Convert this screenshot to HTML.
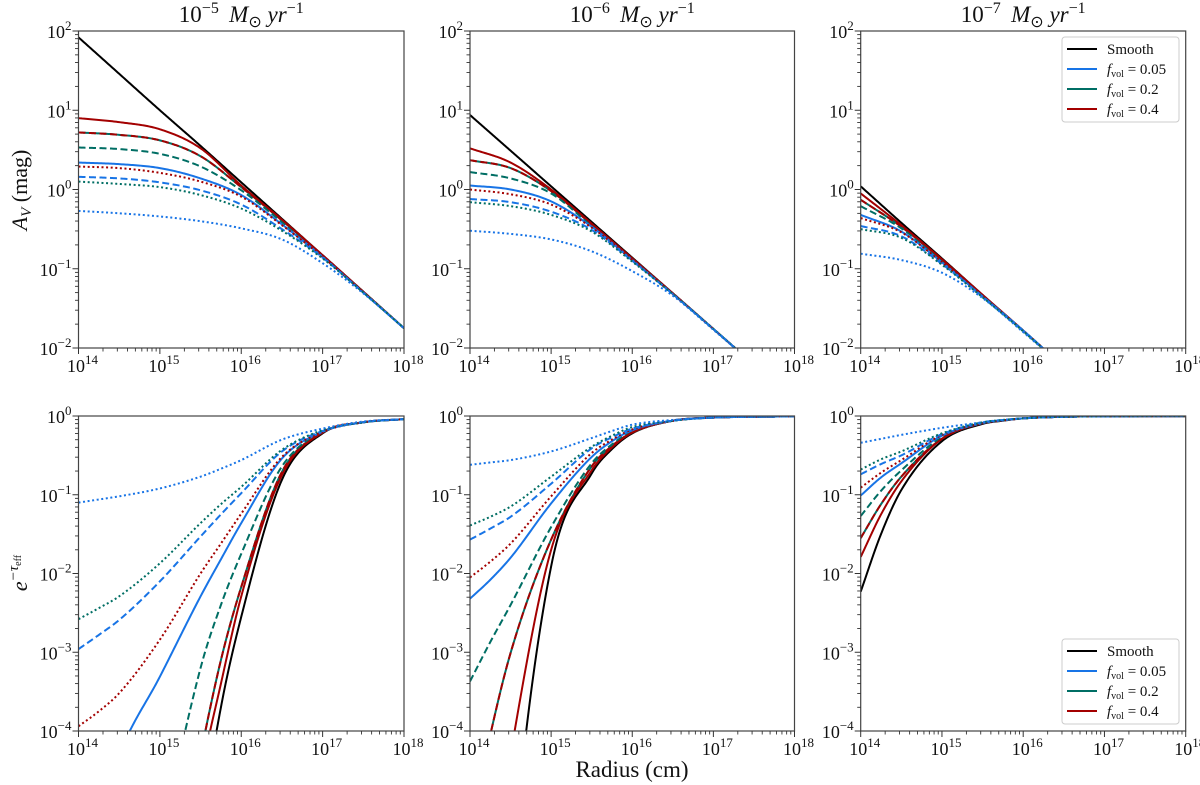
<!DOCTYPE html>
<html><head><meta charset="utf-8"><style>
html,body{margin:0;padding:0;background:#fff;width:1200px;height:785px;overflow:hidden;}
svg{display:block;font-family:"Liberation Serif",serif;}
</style></head><body>
<svg id="fig" width="1200" height="785" viewBox="0 0 1200 785" xmlns="http://www.w3.org/2000/svg"></svg>
<script>
// ---------- data (log10 values) ----------
const topGrid = [14,14.5,15,15.5,16,16.5,17,17.5,18];
const botGrid = [14,14.25,14.5,15,15.5,15.75,16,16.5,17,17.5,18];
const titleExps = ["\u22125","\u22126","\u22127"];
const xTickLabels = ["14","15","16","17","18"];
const topYTickLabels = ["2","1","0","\u22121","\u22122"];
const botYTickLabels = ["0","\u22121","\u22122","\u22123","\u22124"];

// top-left  (A_V, 1e-5)
const tl_smooth = [1.92,1.46,1.00,0.55,0.09,-0.37,-0.83,-1.29,-1.75];
const tl_blue_solid = [0.34,0.32,0.27,0.14,-0.07,-0.44,-0.85,-1.30,-1.75];
const tl_blue_dash = [0.16,0.14,0.09,-0.01,-0.19,-0.50,-0.86,-1.30,-1.75];
const tl_blue_dot = [-0.27,-0.30,-0.34,-0.40,-0.49,-0.63,-0.93,-1.31,-1.75];
const tl_green_solid = [0.72,0.69,0.62,0.42,0.03,-0.39,-0.83,-1.29,-1.75];
const tl_green_dash = [0.53,0.51,0.45,0.29,-0.01,-0.41,-0.84,-1.29,-1.75];
const tl_green_dot = [0.10,0.07,0.03,-0.07,-0.24,-0.52,-0.87,-1.30,-1.75];
const tl_red_solid = [0.90,0.85,0.76,0.52,0.05,-0.38,-0.83,-1.29,-1.75];
const tl_red_dash = [0.72,0.69,0.62,0.42,0.03,-0.39,-0.83,-1.29,-1.75];
const tl_red_dot = [0.29,0.27,0.21,0.10,-0.09,-0.45,-0.85,-1.30,-1.75];
// top-middle (1e-6)
const tm_smooth = [0.94,0.49,0.04,-0.41,-0.86,-1.31,-1.76,-2.21,-2.66];
const tm_blue_solid = [0.05,0.00,-0.15,-0.47,-0.89,-1.32,-1.76,-2.21,-2.66];
const tm_blue_dash = [-0.12,-0.16,-0.28,-0.51,-0.90,-1.32,-1.76,-2.21,-2.66];
const tm_blue_dot = [-0.52,-0.56,-0.63,-0.78,-1.03,-1.34,-1.77,-2.21,-2.66];
const tm_green_solid = [0.37,0.27,-0.02,-0.44,-0.87,-1.31,-1.76,-2.21,-2.66];
const tm_green_dash = [0.22,0.14,-0.05,-0.46,-0.88,-1.31,-1.76,-2.21,-2.66];
const tm_green_dot = [-0.16,-0.21,-0.32,-0.53,-0.91,-1.32,-1.76,-2.21,-2.66];
const tm_red_solid = [0.52,0.34,0.00,-0.43,-0.87,-1.31,-1.76,-2.21,-2.66];
const tm_red_dash = [0.37,0.27,-0.02,-0.44,-0.87,-1.31,-1.76,-2.21,-2.66];
const tm_red_dot = [0.00,-0.06,-0.19,-0.48,-0.89,-1.32,-1.76,-2.21,-2.66];
// top-right (1e-7)
const tr_smooth = [0.04,-0.42,-0.87,-1.33,-1.78,-2.24,-2.69,-3.15,-3.60];
const tr_blue_solid = [-0.32,-0.53,-0.92,-1.35,-1.78,-2.24,-2.69,-3.15,-3.60];
const tr_blue_dash = [-0.46,-0.59,-0.94,-1.35,-1.78,-2.24,-2.69,-3.15,-3.60];
const tr_blue_dot = [-0.81,-0.89,-1.05,-1.37,-1.80,-2.24,-2.69,-3.15,-3.60];
const tr_green_solid = [-0.13,-0.47,-0.89,-1.34,-1.78,-2.24,-2.69,-3.15,-3.60];
const tr_green_dash = [-0.21,-0.49,-0.90,-1.34,-1.78,-2.24,-2.69,-3.15,-3.60];
const tr_green_dot = [-0.50,-0.61,-0.95,-1.36,-1.79,-2.24,-2.69,-3.15,-3.60];
const tr_red_solid = [-0.05,-0.45,-0.88,-1.33,-1.78,-2.24,-2.69,-3.15,-3.60];
const tr_red_dash = [-0.13,-0.47,-0.89,-1.34,-1.78,-2.24,-2.69,-3.15,-3.60];
const tr_red_dot = [-0.36,-0.54,-0.92,-1.35,-1.78,-2.24,-2.69,-3.15,-3.60];
// bottom-left (e^-tau, 1e-5)
const bl_smooth = [-25,-20,-16,-10,-5.3,-3.7,-2.55,-0.81,-0.22,-0.08,-0.04];
const bl_blue_solid = [-6,-5.1,-4.3,-3.31,-2.29,-1.82,-1.36,-0.54,-0.20,-0.08,-0.04];
const bl_blue_dash = [-2.96,-2.78,-2.59,-2.10,-1.53,-1.25,-0.98,-0.45,-0.19,-0.08,-0.04];
const bl_blue_dot = [-1.10,-1.06,-1.02,-0.92,-0.77,-0.67,-0.56,-0.30,-0.16,-0.07,-0.04];
const bl_green_solid = [-16,-13,-11,-7,-4.3,-3.1,-2.17,-0.71,-0.21,-0.08,-0.04];
const bl_green_dash = [-12,-10,-8.2,-5.5,-3.2,-2.4,-1.75,-0.64,-0.20,-0.08,-0.04];
const bl_green_dot = [-2.58,-2.44,-2.29,-1.87,-1.36,-1.12,-0.90,-0.43,-0.18,-0.08,-0.04];
const bl_red_solid = [-20,-16,-13,-8,-4.6,-3.4,-2.29,-0.75,-0.21,-0.08,-0.04];
const bl_red_dash = [-16,-13,-11,-7,-4.3,-3.1,-2.17,-0.71,-0.21,-0.08,-0.04];
const bl_red_dot = [-3.94,-3.75,-3.52,-2.84,-2.0,-1.62,-1.24,-0.52,-0.20,-0.08,-0.04];
// bottom-middle (1e-6)
const bm_smooth = [-14,-9.5,-5.9,-1.91,-0.73,-0.42,-0.22,-0.06,-0.02,-0.01,-0.005];
const bm_blue_solid = [-2.32,-2.08,-1.80,-1.11,-0.52,-0.32,-0.18,-0.06,-0.02,-0.01,-0.005];
const bm_blue_dash = [-1.57,-1.43,-1.28,-0.86,-0.41,-0.27,-0.16,-0.06,-0.02,-0.01,-0.005];
const bm_blue_dot = [-0.62,-0.59,-0.56,-0.45,-0.28,-0.19,-0.11,-0.05,-0.02,-0.01,-0.005];
const bm_green_solid = [-5.3,-4.05,-3.01,-1.57,-0.64,-0.38,-0.21,-0.06,-0.02,-0.01,-0.005];
const bm_green_dash = [-3.37,-2.87,-2.40,-1.41,-0.60,-0.36,-0.20,-0.06,-0.02,-0.01,-0.005];
const bm_green_dot = [-1.39,-1.28,-1.15,-0.77,-0.39,-0.25,-0.14,-0.06,-0.02,-0.01,-0.005];
const bm_red_solid = [-8,-6,-4.3,-1.70,-0.69,-0.40,-0.21,-0.06,-0.02,-0.01,-0.005];
const bm_red_dash = [-5.3,-4.05,-3.01,-1.57,-0.64,-0.38,-0.21,-0.06,-0.02,-0.01,-0.005];
const bm_red_dot = [-2.05,-1.85,-1.62,-1.02,-0.47,-0.30,-0.17,-0.06,-0.02,-0.01,-0.005];
// bottom-right (1e-7)
const br_smooth = [-2.23,-1.50,-0.94,-0.32,-0.10,-0.06,-0.03,-0.01,-0.005,-0.002,-0.001];
const br_blue_solid = [-1.01,-0.78,-0.60,-0.25,-0.09,-0.055,-0.03,-0.01,-0.005,-0.002,-0.001];
const br_blue_dash = [-0.74,-0.61,-0.50,-0.23,-0.08,-0.05,-0.03,-0.01,-0.005,-0.002,-0.001];
const br_blue_dot = [-0.34,-0.29,-0.24,-0.15,-0.08,-0.05,-0.03,-0.01,-0.005,-0.002,-0.001];
const br_green_solid = [-1.55,-1.12,-0.77,-0.29,-0.09,-0.055,-0.03,-0.01,-0.005,-0.002,-0.001];
const br_green_dash = [-1.27,-0.95,-0.69,-0.27,-0.09,-0.055,-0.03,-0.01,-0.005,-0.002,-0.001];
const br_green_dot = [-0.68,-0.55,-0.45,-0.22,-0.08,-0.05,-0.03,-0.01,-0.005,-0.002,-0.001];
const br_red_solid = [-1.79,-1.25,-0.83,-0.29,-0.09,-0.055,-0.03,-0.01,-0.005,-0.002,-0.001];
const br_red_dash = [-1.55,-1.12,-0.77,-0.29,-0.09,-0.055,-0.03,-0.01,-0.005,-0.002,-0.001];
const br_red_dot = [-0.91,-0.72,-0.56,-0.24,-0.09,-0.055,-0.03,-0.01,-0.005,-0.002,-0.001];

// ---------- drawing ----------
const NS="http://www.w3.org/2000/svg";
const svg=document.getElementById('fig');
function mk(tag,attrs,parent){const e=document.createElementNS(NS,tag);for(const k in attrs)e.setAttribute(k,attrs[k]);(parent||svg).appendChild(e);return e;}
const BLUE="#1874e6",GREEN="#006e64",RED="#a30000";
const colsX=[[78.5,404],[470,794.5],[860.7,1185.7]];
const rowsY=[[31,348],[416,731]];
const rowRange=[[2,-2],[0,-4]];
const prefixes=[["tl","tm","tr"],["bl","bm","br"]];
const styles=[["smooth","#000",""],["green_solid",GREEN,""],["red_dash",RED,"7,3.5"],["green_dash",GREEN,"7,3.5"],["red_solid",RED,""],["blue_solid",BLUE,""],["red_dot",RED,"2,2.6"],["blue_dash",BLUE,"7,3.5"],["green_dot",GREEN,"2,2.6"],["blue_dot",BLUE,"2,2.6"]];
const dataMap={tl:{smooth:tl_smooth,blue_solid:tl_blue_solid,blue_dash:tl_blue_dash,blue_dot:tl_blue_dot,green_solid:tl_green_solid,green_dash:tl_green_dash,green_dot:tl_green_dot,red_solid:tl_red_solid,red_dash:tl_red_dash,red_dot:tl_red_dot},
tm:{smooth:tm_smooth,blue_solid:tm_blue_solid,blue_dash:tm_blue_dash,blue_dot:tm_blue_dot,green_solid:tm_green_solid,green_dash:tm_green_dash,green_dot:tm_green_dot,red_solid:tm_red_solid,red_dash:tm_red_dash,red_dot:tm_red_dot},
tr:{smooth:tr_smooth,blue_solid:tr_blue_solid,blue_dash:tr_blue_dash,blue_dot:tr_blue_dot,green_solid:tr_green_solid,green_dash:tr_green_dash,green_dot:tr_green_dot,red_solid:tr_red_solid,red_dash:tr_red_dash,red_dot:tr_red_dot},
bl:{smooth:bl_smooth,blue_solid:bl_blue_solid,blue_dash:bl_blue_dash,blue_dot:bl_blue_dot,green_solid:bl_green_solid,green_dash:bl_green_dash,green_dot:bl_green_dot,red_solid:bl_red_solid,red_dash:bl_red_dash,red_dot:bl_red_dot},
bm:{smooth:bm_smooth,blue_solid:bm_blue_solid,blue_dash:bm_blue_dash,blue_dot:bm_blue_dot,green_solid:bm_green_solid,green_dash:bm_green_dash,green_dot:bm_green_dot,red_solid:bm_red_solid,red_dash:bm_red_dash,red_dot:bm_red_dot},
br:{smooth:br_smooth,blue_solid:br_blue_solid,blue_dash:br_blue_dash,blue_dot:br_blue_dot,green_solid:br_green_solid,green_dash:br_green_dash,green_dot:br_green_dot,red_solid:br_red_solid,red_dash:br_red_dash,red_dot:br_red_dot}};

function monotone(xs,ys){
  const n=xs.length,d=[],m=new Array(n);
  for(let i=0;i<n-1;i++)d.push((ys[i+1]-ys[i])/(xs[i+1]-xs[i]));
  m[0]=d[0];m[n-1]=d[n-2];
  for(let i=1;i<n-1;i++){m[i]=(d[i-1]*d[i]<=0)?0:(d[i-1]+d[i])/2;}
  for(let i=0;i<n-1;i++){if(d[i]===0){m[i]=m[i+1]=0;continue;}const a=m[i]/d[i],b=m[i+1]/d[i],s=a*a+b*b;if(s>9){const t=3/Math.sqrt(s);m[i]=t*a*d[i];m[i+1]=t*b*d[i];}}
  const pts=[];
  for(let i=0;i<n-1;i++){const h=xs[i+1]-xs[i];for(let k=0;k<30;k++){const t=k/30,t2=t*t,t3=t2*t;
    const y=(2*t3-3*t2+1)*ys[i]+(t3-2*t2+t)*h*m[i]+(-2*t3+3*t2)*ys[i+1]+(t3-t2)*h*m[i+1];pts.push([xs[i]+t*h,y]);}}
  pts.push([xs[n-1],ys[n-1]]);return pts;
}

const defs=mk('defs',{});
for(let r=0;r<2;r++){
  const [y0,y1]=rowsY[r],[vTop,vBot]=rowRange[r];
  const grid=r===0?topGrid:botGrid;
  for(let c=0;c<3;c++){
    const [x0,x1]=colsX[c];
    const sx=v=>x0+(v-14)/4*(x1-x0);
    const sy=v=>y0+(vTop-v)/(vTop-vBot)*(y1-y0);
    const pre=prefixes[r][c];
    const g=mk('g',{});
    
    
    const cp=mk('clipPath',{id:'clip-'+pre},defs);
    mk('rect',{x:x0,y:y0,width:x1-x0,height:y1-y0},cp);
    const lg=mk('g',{'clip-path':'url(#clip-'+pre+')'},g);
    styles.forEach(([key,col,dash])=>{
      const pts=monotone(grid,dataMap[pre][key]);
      const d=pts.map((p,i)=>(i?'L':'M')+sx(p[0]).toFixed(2)+','+sy(p[1]).toFixed(2)).join('');
      const p=mk('path',{d:d,fill:'none',stroke:col,'stroke-width':2,'stroke-dasharray':dash||'none'},lg);
      
      
    });
    const fr=mk('rect',{x:x0,y:y0,width:x1-x0,height:y1-y0,fill:'none',stroke:'#444','stroke-width':1.2},g);
    
    
    // x ticks (outward)
    for(let e=14;e<=18;e++){
      mk('line',{x1:sx(e),x2:sx(e),y1:y1,y2:y1+6,stroke:'#333','stroke-width':1},g);
      if(e<18)for(let k=2;k<10;k++){const xv=e+Math.log10(k);mk('line',{x1:sx(xv),x2:sx(xv),y1:y1,y2:y1+3.5,stroke:'#333','stroke-width':0.9},g);}
      const t=mk('text',{x:sx(e)+4,y:y1+24,'text-anchor':'middle','font-size':18,fill:'#111'},g);
      
      
      t.appendChild(document.createTextNode('10'));
      const s=mk('tspan',{dy:-8,'font-size':13},t);s.textContent=xTickLabels[e-14];
    }
    // y ticks
    const labs=r===0?topYTickLabels:botYTickLabels;
    for(let i=0;i<=4;i++){
      const v=vTop-i;
      mk('line',{x1:x0-6,x2:x0,y1:sy(v),y2:sy(v),stroke:'#333','stroke-width':1},g);
      if(i<4)for(let k=2;k<10;k++){const yv=v-1+Math.log10(k);mk('line',{x1:x0-3.5,x2:x0,y1:sy(yv),y2:sy(yv),stroke:'#333','stroke-width':0.9},g);}
      const t=mk('text',{x:x0-7,y:sy(v)+7,'text-anchor':'end','font-size':18,fill:'#111'},g);
      
      
      t.appendChild(document.createTextNode('10'));
      const s=mk('tspan',{dy:-8,'font-size':13},t);s.textContent=labs[i];
    }
    if(r===0){
      const t=mk('text',{x:(x0+x1)/2,y:22,'text-anchor':'middle','font-size':23,fill:'#111'},g);
      
      
      t.appendChild(document.createTextNode('10'));
      let s=mk('tspan',{dy:-9,'font-size':16},t);s.textContent=titleExps[c];
      s=mk('tspan',{dy:9,'font-style':'italic'},t);s.textContent='\u2009 M';
      s=mk('tspan',{dy:5,'font-size':16},t);s.textContent='\u2299';
      s=mk('tspan',{dy:-5,'font-style':'italic'},t);s.textContent=' yr';
      s=mk('tspan',{dy:-9,'font-size':16},t);s.textContent='\u22121';
    }
  }
}
// legends
function legend(y0,name){
  const g=mk('g',{});
  
  
  mk('rect',{x:1062,y:y0,width:117,height:85,rx:3,fill:'#fff',stroke:'#ccc','stroke-width':1},g);
  const items=[["Smooth","#000"],["0.05",BLUE],["0.2",GREEN],["0.4",RED]];
  items.forEach(([lab,col],i)=>{
    const yy=y0+12+i*20;
    mk('line',{x1:1067,x2:1097,y1:yy,y2:yy,stroke:col,'stroke-width':2},g);
    const t=mk('text',{x:1107,y:yy+5,'font-size':15,fill:'#111'},g);
    
    
    if(i===0){t.textContent='Smooth';}
    else{let s=mk('tspan',{'font-style':'italic'},t);s.textContent='f';
      s=mk('tspan',{dy:3,'font-size':10},t);s.textContent='vol';
      s=mk('tspan',{dy:-3},t);s.textContent=' = '+lab;}
  });
}
legend(37,'legend-top');
legend(639,'legend-bottom');
// axis labels
let t=mk('text',{x:0,y:0,'font-size':22,'text-anchor':'middle',transform:'translate(27,190) rotate(-90)',fill:'#111'});


let s=mk('tspan',{'font-style':'italic'},t);s.textContent='A';
s=mk('tspan',{dy:4,'font-size':15,'font-style':'italic'},t);s.textContent='V';
s=mk('tspan',{dy:-4},t);s.textContent=' (mag)';
t=mk('text',{x:0,y:0,'font-size':22,'text-anchor':'middle',transform:'translate(27,573) rotate(-90)',fill:'#111'});


s=mk('tspan',{'font-style':'italic'},t);s.textContent='e';
s=mk('tspan',{dy:-9,'font-size':15,'font-style':'italic'},t);s.textContent='\u2212\u03c4';
s=mk('tspan',{dy:3,'font-size':10},t);s.textContent='eff';
t=mk('text',{x:632,y:777,'font-size':23,'text-anchor':'middle',fill:'#111'});


t.textContent='Radius (cm)';
</script>
</body></html>
